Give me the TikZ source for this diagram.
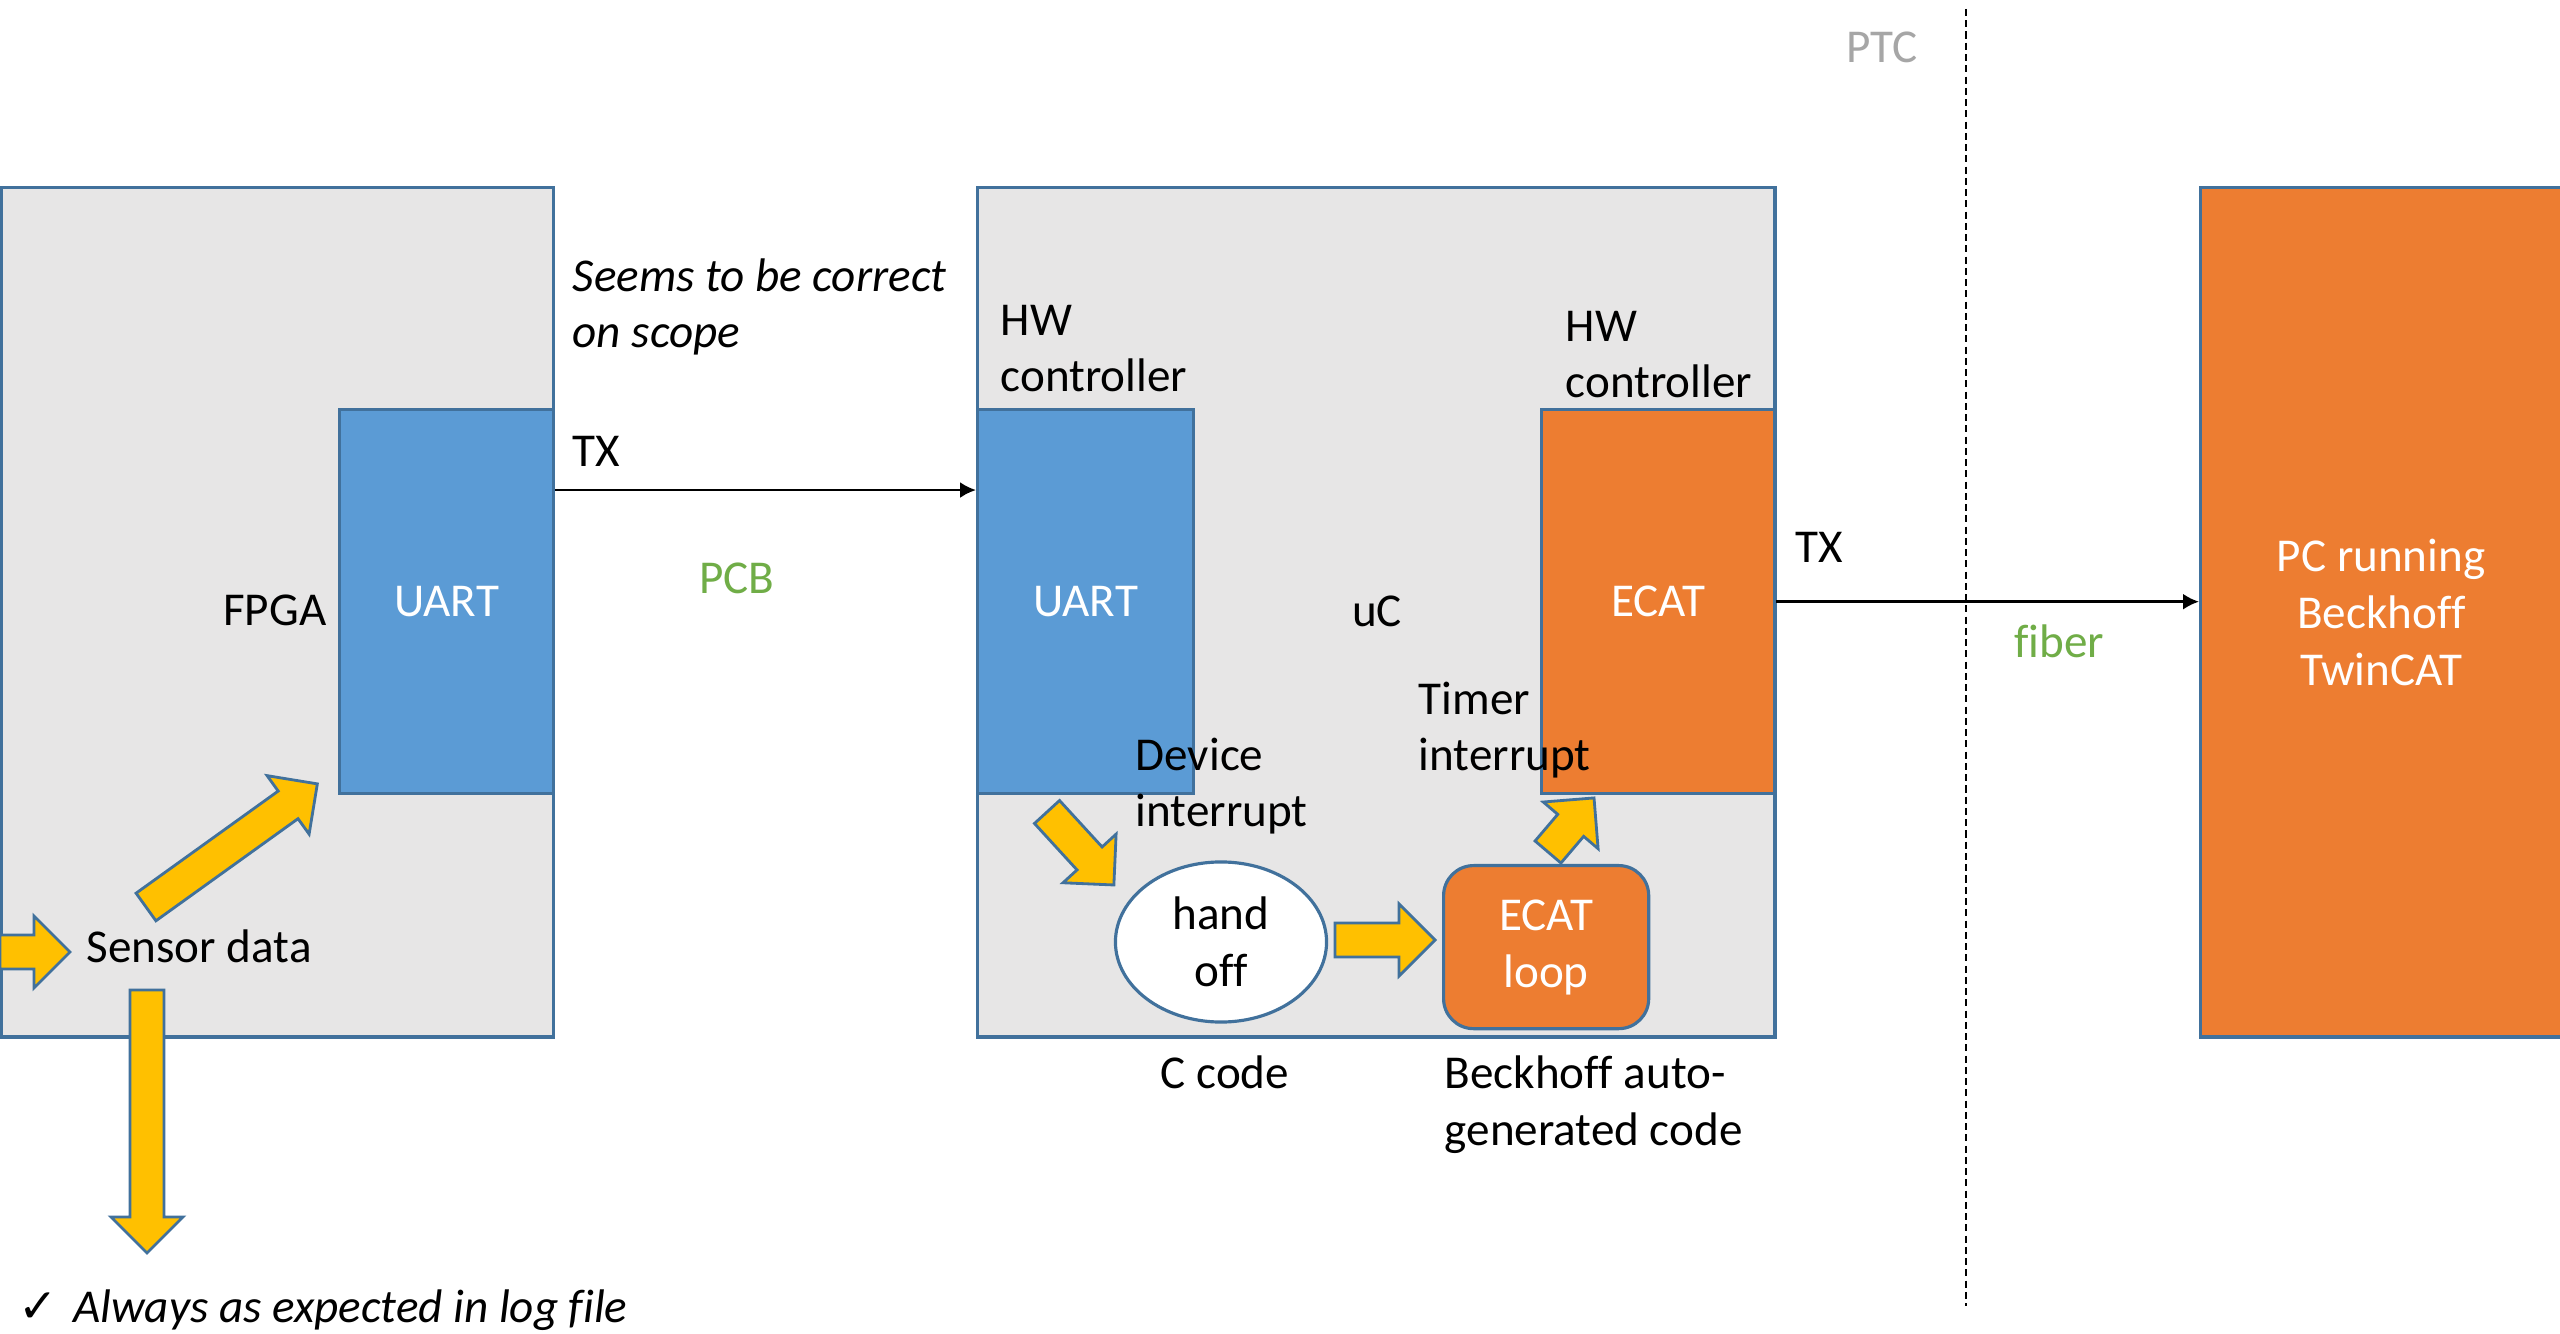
\documentclass[tikz,border=0pt]{standalone}
\usepackage{fontspec}
\setmainfont{Carlito}[Ligatures=NoCommon]
\newfontfamily\symfont{DejaVu Sans}
\usetikzlibrary{positioning,shapes,arrows.meta}

\definecolor{boxgray}{HTML}{E7E6E6}
\definecolor{edgeblue}{HTML}{41719C}
\definecolor{uartblue}{HTML}{5B9BD5}
\definecolor{ecatorange}{HTML}{ED7D31}
\definecolor{arrowyellow}{HTML}{FFC000}
\definecolor{labelgreen}{HTML}{70AD47}
\definecolor{ptcgray}{HTML}{A6A6A6}

\newcommand{\txtsize}{\fontsize{13.4pt}{16.2pt}\selectfont}
% tail, angle, length
\newcommand{\fatarrow}[3]{%
	\draw[fatarrowline, shift={(#1)}, rotate=#2]
	(0,17) -- ({#3-36},17) -- ({#3-36},36) -- (#3,0) -- ({#3-36},-36) -- ({#3-36},-17) -- (0,-17) -- cycle;}

\begin{document}
\begin{tikzpicture}[
		x=0.01cm, y=-0.01cm,
		font=\txtsize,
		chip/.style={draw=edgeblue,line width=0.9pt,fill=boxgray,anchor=north west,inner sep=0pt},
		block/.style={draw=edgeblue,line width=0.9pt,anchor=north west,inner sep=0pt,text=white,align=center},
		lbl/.style={inner sep=0pt},
		sig/.style={line width=0.75pt,-{Latex[length=4.5pt,width=4.5pt]}},
		fatarrowline/.style={draw=edgeblue,line width=0.8pt,fill=arrowyellow,line join=miter}
		]
		\fill[white] (0,0) rectangle (2560,1334);
		\useasboundingbox (0,0) rectangle (2560,1334);
		
		\node[chip,minimum width=5.52cm,minimum height=8.49cm] (fpga) at (0,186) {};
		\node[chip,minimum width=7.97cm,minimum height=8.49cm] (uc) at (976,186) {};
		\node[block,fill=ecatorange,minimum width=3.61cm,minimum height=8.49cm] (pc) at (2199,186) {PC running\\Beckhoff\\TwinCAT};
		
		\node[block,fill=uartblue,minimum width=2.14cm,minimum height=3.84cm] (uart1) at (338,408) {UART};
		\node[block,fill=uartblue,minimum width=2.16cm,minimum height=3.84cm] (uart2) at (976,408) {UART};
		\node[block,fill=ecatorange,minimum width=2.33cm,minimum height=3.84cm] (ecat) at (1540,408) {ECAT};
		\node[draw=edgeblue,line width=0.9pt,fill=white,ellipse,inner sep=0pt,
			minimum width=2.11cm,minimum height=1.60cm,align=center] (handoff) at (1221,942) {hand\\off};
		\node[block,fill=ecatorange,rounded corners=0.3cm,minimum width=2.05cm,minimum height=1.63cm] (ecatloop) at (1442,864) {ECAT\\loop};
		
		\draw[sig] ([yshift=-0.82cm]uart1.north east) -- ([yshift=-0.82cm]uart2.north west);
		\draw[sig] (ecat.east) -- (ecat.east -| pc.west);
		
		\coordinate (ptctop) at (1966,9);
		\coordinate (ptcbot) at (1966,1306);
		\draw[line width=0.6pt,dash pattern=on 2pt off 1.2pt] (ptctop) -- (ptcbot);
		
		\coordinate (sdin) at (0,952);
		\coordinate (sdup) at (146,907);
		\coordinate (sddown) at (147,990);
		\coordinate (devint) at (1047,812);
		\coordinate (hoout) at (1335,940);
		\coordinate (loopup) at (1548,852);
		\fatarrow{sdin}{0}{70}
		\fatarrow{sdup}{35.7}{211}
		\fatarrow{sddown}{-90}{263}
		\fatarrow{devint}{-47.5}{99}
		\fatarrow{hoout}{0}{100}
		\fatarrow{loopup}{49.6}{71}
		
		\node[lbl,anchor=base east] (fpgalbl) at (327,626) {FPGA};
		\node[lbl,anchor=base west,align=left,font=\txtsize\itshape] (scope) at (572,348) {Seems to be correct\\on scope};
		\node[lbl,anchor=base west] (tx1) at (572,467) {TX};
		\node[lbl,anchor=base,text=labelgreen] (pcb) at (737,594) {PCB};
		\node[lbl,anchor=base west,align=left] (hw1) at (1000,392) {HW\\controller};
		\node[lbl,anchor=base] (uclbl) at (1377,627) {uC};
		\node[lbl,anchor=base west,align=left] (hw2) at (1565,398) {HW\\controller};
		\node[lbl,anchor=base west] (tx2) at (1795,563) {TX};
		\node[lbl,anchor=base,text=labelgreen] (fiber) at (2059,658) {fiber};
		\node[lbl,anchor=base,text=ptcgray] (ptc) at (1882,63) {PTC};
		\node[lbl,anchor=base west,align=left] (timer) at (1418,771) {Timer\\interrupt};
		\node[lbl,anchor=base west,align=left] (devlbl) at (1135,827) {Device\\interrupt};
		\node[lbl,anchor=base] (ccode) at (1225,1088) {C code};
		\node[lbl,anchor=base west,align=left] (autogen) at (1444,1145) {Beckhoff auto-\\generated code};
		\node[lbl,anchor=base west] (sensor) at (86,962) {Sensor data};
		\node[lbl,anchor=base west] (logok) at (18,1322) {{\symfont ✓}\hspace{0.15cm}\textit{Always as expected in log file}};
	\end{tikzpicture}
\end{document}
